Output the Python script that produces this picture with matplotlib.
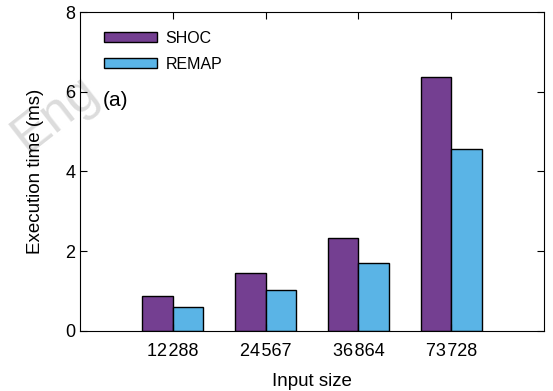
import matplotlib.pyplot as plt

plt.rcParams['font.family'] = ['Liberation Sans', 'DejaVu Sans']

sizes = ['12\u200a288', '24\u200a567', '36\u200a864', '73\u200a728']
shoc = [0.88, 1.45, 2.33, 6.36]
remap = [0.60, 1.03, 1.70, 4.56]

fig = plt.figure(figsize=(5.53, 3.91), dpi=100)
ax = fig.add_axes([0.1447, 0.1535, 0.8390, 0.8158])

# faint watermark behind the axes, as in the scanned original
fig.text(0.1, 0.71, 'Eng', fontsize=38, color='#dcdcdc', rotation=38,
         ha='center', va='center', zorder=-1)
ax.patch.set_alpha(0)

x = range(1, len(sizes) + 1)
w = 0.33
ax.bar([i - w / 2 for i in x], shoc, w, color='#743F91', edgecolor='black', linewidth=1.0, label='SHOC')
ax.bar([i + w / 2 for i in x], remap, w, color='#5AB4E6', edgecolor='black', linewidth=1.0, label='REMAP')

ax.set_xlim(0, 5)
ax.set_ylim(0, 8)
ax.set_xticks(list(x))
ax.set_xticklabels(sizes)
ax.set_yticks([0, 2, 4, 6, 8])
ax.tick_params(direction='in', top=True, right=True, labelsize=13, length=5)
ax.tick_params(axis='x', pad=9)
ax.set_xlabel('Input size', fontsize=13.5, labelpad=9)
ax.set_ylabel('Execution time (ms)', fontsize=13.5, labelpad=15)
ax.text(0.247, 5.79, '(a)', fontsize=15, va='center')
ax.legend(loc='upper left', frameon=False, fontsize=11.5, handlelength=3.3, handleheight=0.65,
          handletextpad=0.55, labelspacing=0.7, bbox_to_anchor=(0.038, 0.962), borderaxespad=0)

fig.savefig('out.png', dpi=100)
